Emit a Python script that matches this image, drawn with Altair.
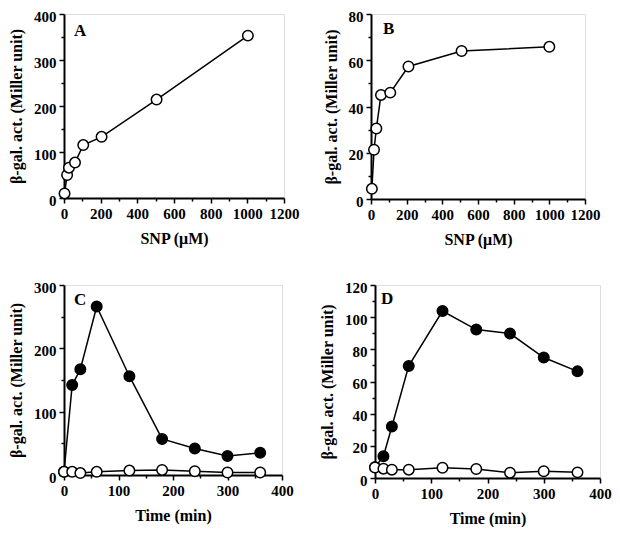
import altair as alt
import pandas as pd

# Panel A
a_snp = [3, 17, 27, 60, 105, 205, 505, 1003]
a_act = [10, 50, 66, 77, 115, 133, 214, 353]
# Panel B
b_snp = [5, 17, 30, 56, 108, 210, 508, 1000]
b_act = [4.4, 21.3, 30.5, 45, 46, 57.3, 64, 65.8]
# Panel C
c_time = [0, 15, 30, 60, 120, 180, 240, 300, 360]
c_filled = [5, 142, 167, 266, 156, 57, 42, 30, 35]
c_open = [5, 5, 3, 5, 7, 8, 6, 4, 4]
# Panel D
d_time = [0, 15, 30, 60, 120, 180, 240, 300, 360]
d_filled = [6.7, 13.5, 32, 69.7, 103.8, 92.3, 89.8, 74.9, 66.3]
d_open = [6.5, 5.8, 5.2, 5.2, 6.4, 5.6, 3.3, 4.2, 3.5]

FONT = "Liberation Serif"
YT = "β-gal. act. (Miller unit)"


def axis(title, values, major, pad=3, tpad=6, loff=0):
    return alt.Axis(
        title=title,
        values=values,
        format="d",
        labelExpr=f"datum.value % {major} === 0 ? datum.label : ''",
        labelOverlap=False,
        labelFlush=False,
        labelOffset=loff,
        tickSize={"condition": {"test": f"datum.value % {major} === 0", "value": 5}, "value": 3},
        grid=False,
        domainColor="black",
        domainWidth=2,
        tickColor="black",
        tickWidth=1.5,
        labelColor="black",
        labelFont=FONT,
        labelFontWeight="bold",
        labelFontSize=15,
        labelPadding=pad,
        titleFont=FONT,
        titleFontWeight="bold",
        titleFontSize=16,
        titleColor="black",
        titlePadding=tpad,
    )


def panel(df, xcol, ycol, xdom, ydom, xvals, xmajor, yvals, ymajor, xtitle, letter, lx, ly, w, h, series=None):
    base = alt.Chart(df)
    enc = dict(
        x=alt.X(f"{xcol}:Q", scale=alt.Scale(domain=xdom, nice=False), axis=axis(xtitle, xvals, xmajor, tpad=9)),
        y=alt.Y(f"{ycol}:Q", scale=alt.Scale(domain=ydom, nice=False), axis=axis(YT, yvals, ymajor, tpad=9, loff=2)),
    )
    if series is not None:
        line = base.mark_line(color="black", strokeWidth=1.5).encode(detail=f"{series}:N", **enc)
        pts = base.mark_point(shape="circle", size=110, stroke="black", strokeWidth=1.5, opacity=1).encode(
            fill=alt.Fill(f"{series}:N", scale=alt.Scale(domain=["filled", "open"], range=["black", "white"]), legend=None),
            order=alt.Order("ord:Q"),
            **enc,
        )
    else:
        line = base.mark_line(color="black", strokeWidth=1.5).encode(**enc)
        pts = base.mark_point(shape="circle", size=110, stroke="black", strokeWidth=1.5, fill="white", opacity=1).encode(**enc)
    txt = alt.Chart(pd.DataFrame({"t": [letter]})).mark_text(
        font=FONT, fontWeight="bold", fontSize=17, color="black", align="left", baseline="middle"
    ).encode(text="t:N", x=alt.value(lx), y=alt.value(ly))
    return alt.layer(line, pts, txt).properties(width=w, height=h)


dfa = pd.DataFrame({"x": a_snp, "y": a_act})
dfb = pd.DataFrame({"x": b_snp, "y": b_act})
dfc = pd.concat([
    pd.DataFrame({"x": c_time, "y": c_filled, "s": "filled", "ord": 0}),
    pd.DataFrame({"x": c_time, "y": c_open, "s": "open", "ord": 1}),
])
dfd = pd.concat([
    pd.DataFrame({"x": d_time, "y": d_filled, "s": "filled", "ord": 0}),
    pd.DataFrame({"x": d_time, "y": d_open, "s": "open", "ord": 1}),
])

xs_snp = list(range(0, 1201, 100))
xs_time = list(range(0, 401, 50))

pa = panel(dfa, "x", "y", [0, 1200], [0, 400], xs_snp, 200, list(range(0, 401, 50)), 100, "SNP (μM)", "A", 10, 17, 220, 184)
pb = panel(dfb, "x", "y", [0, 1200], [0, 80], xs_snp, 200, list(range(0, 81, 10)), 20, "SNP (μM)", "B", 12, 15, 214, 185)
pc = panel(dfc, "x", "y", [0, 400], [0, 300], xs_time, 100, list(range(0, 301, 50)), 100, "Time (min)", "C", 10, 15, 218, 190, series="s")
pd_ = panel(dfd, "x", "y", [0, 400], [0, 120], xs_time, 100, list(range(0, 121, 10)), 20, "Time (min)", "D", 6, 14, 225, 193, series="s")

top = alt.hconcat(pa, pb, spacing=22)
bottom = alt.hconcat(pc, pd_, spacing=25)
chart = alt.vconcat(top, bottom, spacing=31).configure_view(stroke="black", strokeWidth=1.5).configure(
    background="white", padding=0
)

chart.save("out.html", embed_options={"renderer": "svg", "actions": False})
